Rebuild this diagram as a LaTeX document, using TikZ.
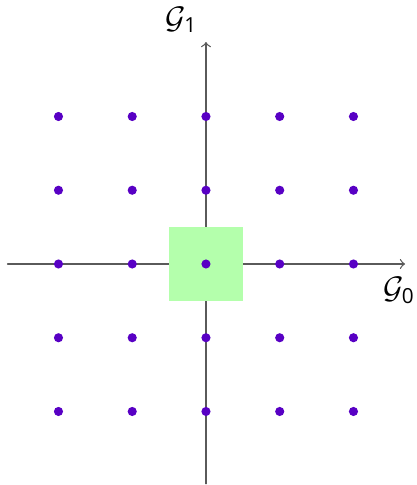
\documentclass[tikz,border=0pt]{standalone}
\usepackage{amsmath}
\usepackage{fontspec}
\setmainfont{Open Sans}
\definecolor{latpt}{RGB}{88,0,196}
\definecolor{cellgreen}{RGB}{180,255,172}
\definecolor{axisgray}{RGB}{90,90,90}

\begin{document}
\begin{tikzpicture}[line cap=round,line join=round]
  \useasboundingbox (-2.793,-2.997) rectangle (2.861,3.580);
  \coordinate (O) at (0,0);
  \coordinate (X0) at (-2.69,0);
  \coordinate (X1) at (2.70,0);
  \coordinate (Y0) at (0,-2.98);
  \coordinate (Y1) at (0,3.01);
  \draw[line width=0.5pt,color=axisgray,->] (X0) -- (X1);
  \draw[line width=0.5pt,color=axisgray,->] (Y0) -- (Y1);
  \fill[cellgreen] (-0.5,-0.5) rectangle (0.5,0.5);
  \foreach \i in {-2,...,2}
    \foreach \j in {-2,...,2}
      \fill[latpt] (\i,\j) circle (0.062);
  \node[font=\large] (g0) at (2.62,-0.36) {$\mathcal{G}_{\text{0}}$};
  \node[font=\large] (g1) at (-0.33,3.31) {$\mathcal{G}_{\text{1}}$};
\end{tikzpicture}
\end{document}
